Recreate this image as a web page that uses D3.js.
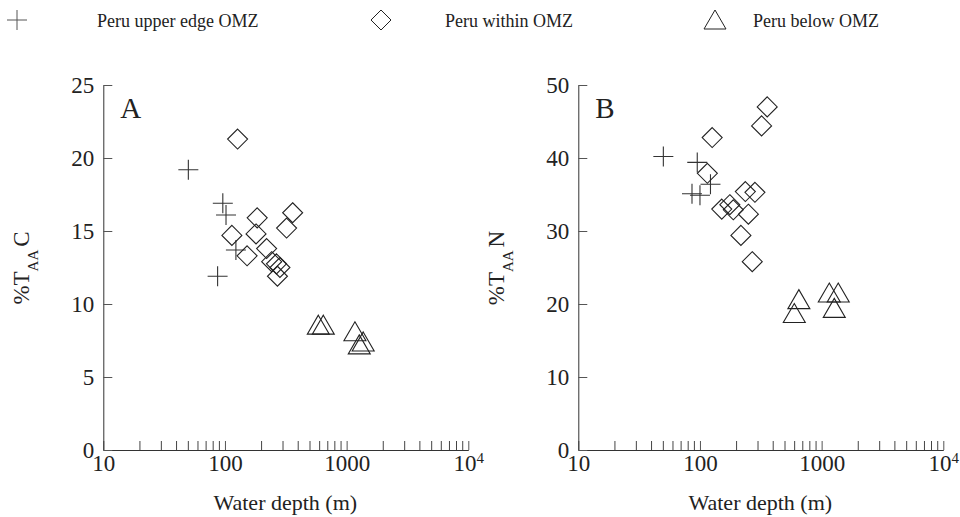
<!DOCTYPE html>
<html>
<head>
<meta charset="utf-8">
<script src="https://cdn.jsdelivr.net/npm/d3@7"></script>
<style>
  body { margin: 0; background: #fff; }
  svg, svg text { font-family: "Liberation Serif", "Times New Roman", Tinos, "Nimbus Roman", "DejaVu Serif", serif !important; }
</style>
</head>
<body>
<div id="chart"></div>
<script>
// water depth (m) and %T_AA values
const upperA_depth = [50, 87, 96, 102, 123];
const upperA = [19.2, 11.9, 16.9, 16.1, 13.7];
const withinA_depth = [114, 127, 152, 180, 184, 220, 242, 265, 270, 283, 321, 360];
const withinA = [14.7, 21.3, 13.3, 14.8, 15.9, 13.8, 12.9, 12.75, 11.9, 12.5, 15.2, 16.25];
const belowA_depth = [585, 643, 1170, 1270, 1368];
const belowA = [8.55, 8.55, 8.1, 7.2, 7.4];

const upperB_depth = [50, 86, 95, 100, 122];
const upperB = [40.2, 35.1, 39.4, 34.9, 36.4];
const withinB_depth = [115, 126, 151, 176, 188, 217, 236, 250, 269, 283, 321, 357];
const withinB = [37.9, 42.8, 33.0, 33.6, 32.9, 29.4, 35.4, 32.3, 25.8, 35.3, 44.4, 47.0];
const belowB_depth = [596, 650, 1156, 1270, 1369];
const belowB = [18.7, 20.6, 21.5, 19.4, 21.5];

const seriesNames = ['Peru upper edge OMZ', 'Peru within OMZ', 'Peru below OMZ'];
const xTicks = [10, 100, 1000, 10000];
const yTicksA = [0, 5, 10, 15, 20, 25];
const yTicksB = [0, 10, 20, 30, 40, 50];

const width = 960, height = 517;
const ink = '#222';

const shapes = {
    cross: 'M-10,0H10M0,-10V10',
    diamond: 'M0,-10L10,0L0,10L-10,0Z',
    triangle: 'M0,-10L11,9L-11,9Z'
};
const shapeOrder = ['cross', 'diamond', 'triangle'];

let svg = d3.select('#chart').append('svg')
    .attr('width', width)
    .attr('height', height);

function zip(xs, ys){
    return xs.map((d, i) => ({depth: d, v: ys[i]}));
}

function draw_panel(opt){
    let x = d3.scaleLog().domain([10, 10000]).range([opt.left, opt.left + 365]);
    let y = d3.scaleLinear().domain([0, opt.ymax]).range([450, 85]);
    let g = svg.append('g');

    // minor ticks on the log axis, pointing up into the plot
    let minor = [];
    [10, 100, 1000].forEach(dec => {
        for (let k = 2; k <= 9; k++) minor.push(dec * k);
    });
    g.selectAll('.minor')
        .data(minor)
        .enter().append('line')
        .attr('class', 'minor')
        .attr('x1', d => x(d)).attr('x2', d => x(d))
        .attr('y1', 450).attr('y2', 441)
        .attr('stroke', '#444')
        .attr('stroke-width', 1);

    let xAxis = g.append('g')
        .attr('transform', 'translate(0,450)')
        .call(d3.axisBottom(x).tickValues(xTicks)
            .tickSizeInner(-9).tickSizeOuter(0).tickPadding(5)
            .tickFormat(d => d === 10000 ? '10' : d3.format('d')(d)));
    xAxis.attr('font-family', null);
    xAxis.selectAll('text')
        .attr('font-size', 23)
        .attr('fill', ink);
    xAxis.selectAll('.tick')
        .filter(d => d === 10000)
        .select('text')
        .append('tspan')
        .attr('dy', '-0.55em')
        .attr('font-size', 15)
        .text('4');

    let yAxis = g.append('g')
        .attr('transform', `translate(${opt.left},0)`)
        .call(d3.axisLeft(y).tickValues(opt.yticks)
            .tickSizeInner(-9).tickSizeOuter(0).tickPadding(9));
    yAxis.attr('font-family', null);
    yAxis.selectAll('text')
        .attr('font-size', 23)
        .attr('fill', ink);

    svg.selectAll('.domain').attr('stroke', '#333');
    svg.selectAll('.tick line').attr('stroke', '#555');

    // panel letter
    g.append('text')
        .attr('x', opt.left + 17)
        .attr('y', 118)
        .attr('font-size', 29)
        .attr('fill', ink)
        .text(opt.letter);

    // axis titles
    g.append('text')
        .attr('x', opt.left + 182)
        .attr('y', 510)
        .attr('text-anchor', 'middle')
        .attr('font-size', 22)
        .attr('fill', ink)
        .text('Water depth (m)');

    let yt = g.append('text')
        .attr('transform', `translate(${opt.left - 74},268) rotate(-90)`)
        .attr('text-anchor', 'middle')
        .attr('font-size', 23)
        .attr('fill', ink);
    yt.append('tspan').text('%T');
    yt.append('tspan').attr('dy', 9).attr('font-size', 15).text('AA');
    yt.append('tspan').attr('dy', -9).attr('dx', 3).text(opt.elem);

    // points
    opt.series.forEach((s, i) => {
        g.selectAll('.pt' + i)
            .data(s)
            .enter().append('path')
            .attr('class', 'pt' + i)
            .attr('d', shapes[shapeOrder[i]])
            .attr('transform', d => `translate(${x(d.depth)},${y(d.v)})`)
            .attr('fill', 'none')
            .attr('stroke', i === 0 ? '#333' : ink)
            .attr('stroke-width', 1.1);
    });
}

draw_panel({
    left: 103.3, ymax: 25, yticks: yTicksA, letter: 'A', elem: 'C',
    series: [zip(upperA_depth, upperA), zip(withinA_depth, withinA), zip(belowA_depth, belowA)]
});
draw_panel({
    left: 578.3, ymax: 50, yticks: yTicksB, letter: 'B', elem: 'N',
    series: [zip(upperB_depth, upperB), zip(withinB_depth, withinB), zip(belowB_depth, belowB)]
});

// legend
const legendMarkX = [17, 381, 715];
const legendTextX = [97, 445, 753];
let legend = svg.append('g');
seriesNames.forEach((name, i) => {
    legend.append('path')
        .attr('d', shapes[shapeOrder[i]])
        .attr('transform', `translate(${legendMarkX[i]},20)`)
        .attr('fill', 'none')
        .attr('stroke', i === 0 ? '#555' : ink)
        .attr('stroke-width', 1);
    legend.append('text')
        .attr('x', legendTextX[i])
        .attr('y', 27)
        .attr('font-size', 18)
        .attr('fill', ink)
        .text(name);
});
</script>
</body>
</html>
